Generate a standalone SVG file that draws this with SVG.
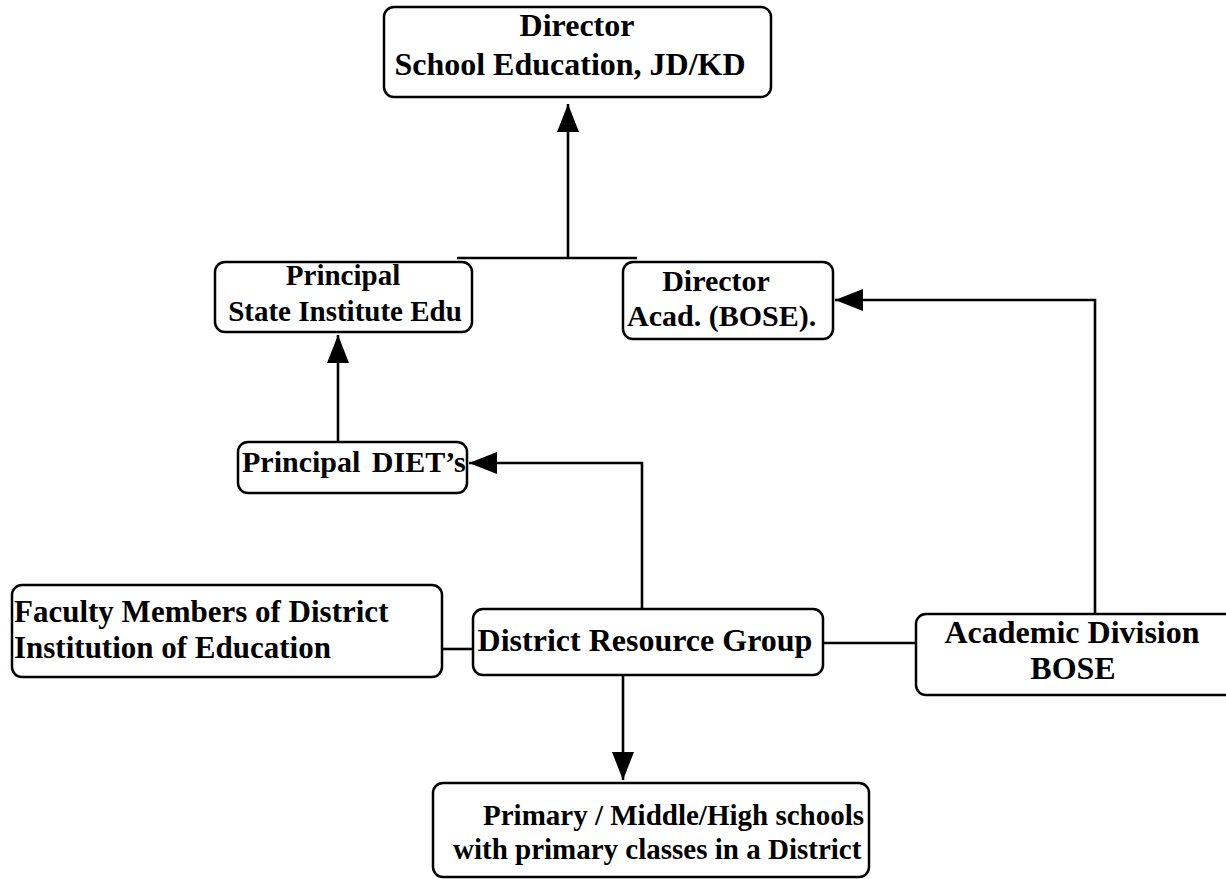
<svg xmlns="http://www.w3.org/2000/svg" width="1226" height="879" viewBox="0 0 1226 879">
<style>
.box{fill:#fff;stroke:#000;stroke-width:2.5}
.t{font-family:"Liberation Serif","Times New Roman",serif;font-weight:bold;fill:#000}
.c{text-anchor:middle}
.ln{fill:none;stroke:#000;stroke-width:2.6}
</style>
<defs>
<marker id="ah" markerUnits="userSpaceOnUse" markerWidth="30" markerHeight="24" refX="28" refY="11" orient="auto">
<path d="M0,0 L28,11 L0,22 z" fill="#000"/>
</marker>
</defs>
<rect width="1226" height="879" fill="#fff"/>
<g id="connectors">
<path class="ln" d="M457,258 H637"/>
<path class="ln" d="M568,258 V104" marker-end="url(#ah)"/>
<path class="ln" d="M338,442 V335" marker-end="url(#ah)"/>
<path class="ln" d="M642,608 V463 H469" marker-end="url(#ah)"/>
<path class="ln" d="M1095,614 V300 H835" marker-end="url(#ah)"/>
<path class="ln" d="M442,649 H473"/>
<path class="ln" d="M823,643 H916"/>
<path class="ln" d="M623,675 V780" marker-end="url(#ah)"/>
</g>
<g id="director-school">
<rect class="box" x="384" y="7" width="387" height="90" rx="10"/>
<text class="t c" x="577" y="36" font-size="32">Director</text>
<text class="t c" x="570" y="75" font-size="32">School Education, JD/KD</text>
</g>
<g id="principal-sie">
<rect class="box" x="215" y="262" width="257" height="70" rx="10"/>
<text class="t c" x="343" y="285" font-size="29">Principal</text>
<text class="t c" x="345" y="321" font-size="29">State Institute Edu</text>
</g>
<g id="director-acad">
<rect class="box" x="623" y="262" width="210" height="77" rx="10"/>
<text class="t c" x="716" y="291" font-size="30">Director</text>
<text class="t" x="627" y="326" font-size="30">Acad. (BOSE).</text>
</g>
<g id="principal-diet">
<rect class="box" x="238" y="442" width="229" height="51" rx="10"/>
<text class="t" x="242" y="472" font-size="30" word-spacing="4">Principal DIET’s</text>
</g>
<g id="faculty">
<rect class="box" x="12" y="585" width="430" height="92" rx="10"/>
<text class="t" x="14" y="622" font-size="31">Faculty Members of District</text>
<text class="t" x="14" y="658" font-size="31">Institution of Education</text>
</g>
<g id="drg">
<rect class="box" x="473" y="609" width="350" height="66" rx="10"/>
<text class="t c" x="645" y="651" font-size="32">District Resource Group</text>
</g>
<g id="academic-division">
<rect class="box" x="916" y="614" width="330" height="81" rx="10"/>
<text class="t c" x="1072" y="643" font-size="32">Academic Division</text>
<text class="t c" x="1073" y="679" font-size="32">BOSE</text>
</g>
<g id="schools">
<rect class="box" x="433" y="783" width="436" height="94" rx="10"/>
<text class="t" x="483" y="825" font-size="29">Primary / Middle/High schools</text>
<text class="t" x="453" y="859" font-size="29">with primary classes in a District</text>
</g>
</svg>
